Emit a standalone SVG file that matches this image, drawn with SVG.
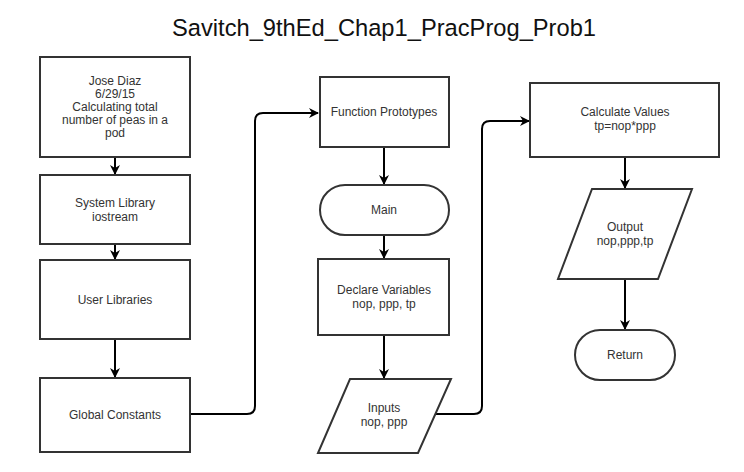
<svg xmlns="http://www.w3.org/2000/svg" width="744" height="472" viewBox="0 0 744 472">
  <defs>
    <marker id="arrow" viewBox="0 0 10 10" refX="9" refY="5" markerWidth="5" markerHeight="5" orient="auto" markerUnits="strokeWidth">
      <path d="M0,0 L10,5 L0,10 L3,5 z" fill="#000"/>
    </marker>
    <style>
      .shape { fill: #fff; stroke: #333; stroke-width: 2; }
      .label { font-family: "Liberation Sans", Arial, sans-serif; font-size: 12px; fill: #333; text-anchor: middle; }
      .title { font-family: "Liberation Sans", Arial, sans-serif; font-size: 23.7px; fill: #111; text-anchor: middle; }
      .link { fill: none; stroke: #000; stroke-width: 2; marker-end: url(#arrow); }
    </style>
  </defs>
  <rect width="744" height="472" fill="#fff"/>

  <text class="title" x="384" y="36">Savitch_9thEd_Chap1_PracProg_Prob1</text>

  <g id="connectors">
    <path class="link" d="M115,157 V174"/>
    <path class="link" d="M115,244 V259"/>
    <path class="link" d="M115,339 V377"/>
    <path class="link" d="M190,414 H247 Q255,414 255,406 V121 Q255,113 263,113 H318"/>
    <path class="link" d="M384,147 V184"/>
    <path class="link" d="M384,235 V258"/>
    <path class="link" d="M384,335 V378"/>
    <path class="link" d="M434,414 H474 Q482,414 482,406 V129 Q482,121 490,121 H529"/>
    <path class="link" d="M625,157 V188"/>
    <path class="link" d="M625,279 V329"/>
  </g>

  <g id="header">
    <rect class="shape" x="40" y="57" width="150" height="100"/>
    <text class="label" x="115" y="85">Jose Diaz</text>
    <text class="label" x="115" y="98">6/29/15</text>
    <text class="label" x="115" y="111">Calculating total</text>
    <text class="label" x="115" y="124">number of peas in a</text>
    <text class="label" x="115" y="137">pod</text>
  </g>

  <g id="system-library">
    <rect class="shape" x="40" y="175" width="150" height="69"/>
    <text class="label" x="115" y="207">System Library</text>
    <text class="label" x="115" y="221">iostream</text>
  </g>

  <g id="user-libraries">
    <rect class="shape" x="40" y="260" width="150" height="79"/>
    <text class="label" x="115" y="304">User Libraries</text>
  </g>

  <g id="global-constants">
    <rect class="shape" x="40" y="378" width="150" height="74"/>
    <text class="label" x="115" y="419">Global Constants</text>
  </g>

  <g id="function-prototypes">
    <rect class="shape" x="320" y="77" width="129" height="70"/>
    <text class="label" x="384" y="116">Function Prototypes</text>
  </g>

  <g id="main">
    <rect class="shape" x="320" y="185" width="129" height="50" rx="25" ry="25"/>
    <text class="label" x="384" y="214">Main</text>
  </g>

  <g id="declare-variables">
    <rect class="shape" x="318" y="259" width="131" height="76"/>
    <text class="label" x="384" y="294">Declare Variables</text>
    <text class="label" x="384" y="308">nop, ppp, tp</text>
  </g>

  <g id="inputs">
    <polygon class="shape" points="350,379 451,379 418,453 318,453"/>
    <text class="label" x="384" y="412">Inputs</text>
    <text class="label" x="384" y="426">nop, ppp</text>
  </g>

  <g id="calculate-values">
    <rect class="shape" x="530" y="83" width="189" height="74"/>
    <text class="label" x="625" y="116">Calculate Values</text>
    <text class="label" x="625" y="130">tp=nop*ppp</text>
  </g>

  <g id="output">
    <polygon class="shape" points="592,189 692,189 658,279 558,279"/>
    <text class="label" x="625" y="231">Output</text>
    <text class="label" x="625" y="245">nop,ppp,tp</text>
  </g>

  <g id="return">
    <rect class="shape" x="575" y="330" width="100" height="50" rx="25" ry="25"/>
    <text class="label" x="625" y="359">Return</text>
  </g>
</svg>
